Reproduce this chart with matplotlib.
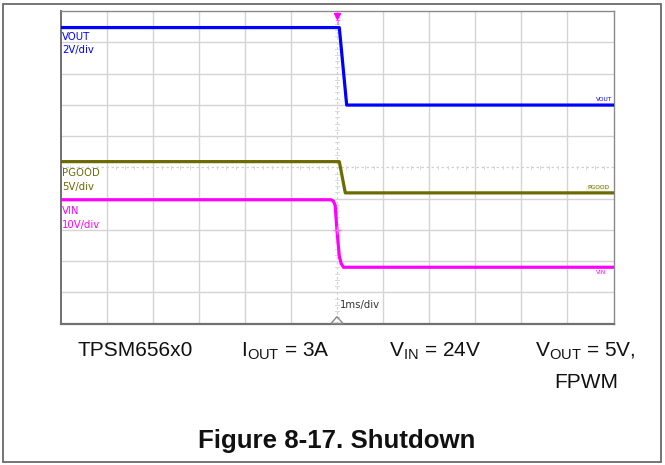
import matplotlib as mpl
mpl.use('Agg')
import matplotlib.pyplot as plt
from matplotlib.patches import Rectangle, Polygon

plt.rc('font', family='Liberation Sans')
plt.rc('mathtext', fontset='custom', rm='Liberation Sans')

# scope traces, time in ms (1 ms/div), amplitude in screen divisions
vout_t = [-6.0, 0.05, 0.21, 6.0]
vout_y = [4.47, 4.47, 1.99, 1.99]

pgood_t = [-6.0, 0.05, 0.18, 6.0]
pgood_y = [0.18, 0.18, -0.82, -0.82]

vin_t = [-6.0, -0.13, -0.08, -0.04, 0.0, 0.05, 0.09, 0.14, 6.0]
vin_y = [-1.04, -1.04, -1.08, -1.22, -2.03, -2.85, -3.08, -3.2, -3.2]

ch_names = ["VOUT", "PGOOD", "VIN"]
ch_scales = ["2V/div", "5V/div", "10V/div"]
ch_colors = ["#0000ff", "#6b6b00", "#ff00ff"]

conditions = ["TPSM656x0", r"I$_{\mathregular{OUT}}$ = 3A",
              r"V$_{\mathregular{IN}}$ = 24V", "V$_{\mathregular{OUT}}$ = 5V,"]
mode = "FPWM"
caption = "Figure 8-17. Shutdown"

W, H = 665, 465
fig = plt.figure(figsize=(W / 100, H / 100), dpi=100)


def fx(px):
    return px / W


def fy(py):
    return 1 - py / H


# outer frame of the figure block
fig.patches.append(Rectangle((fx(3), fy(462)), fx(658), 458 / H, transform=fig.transFigure,
                             fill=False, ec='#6a6a6a', lw=1.3))

ax = fig.add_axes([fx(60.5), fy(323.5), fx(553), 312.5 / H])
ax.set_xlim(-6, 6)
ax.set_ylim(-5, 5)
ax.set_xticks([])
ax.set_yticks([])
for s in ax.spines.values():
    s.set_color('#8a8a8a')
    s.set_linewidth(1.0)
ax.spines['bottom'].set_color('#707070')
ax.spines['bottom'].set_linewidth(1.6)
ax.spines['left'].set_color('#707070')
ax.spines['left'].set_linewidth(1.4)

# graticule
for gx in range(-5, 6):
    if gx != 0:
        ax.axvline(gx, color='#d4d4d4', lw=1.0, zorder=0)
for gy in range(-4, 5):
    if gy != 0:
        ax.axhline(gy, color='#d4d4d4', lw=1.0, zorder=0)
ax.axvline(0, color='#d0d0d0', lw=0.9, ls=(0, (2, 2)), zorder=0)
ax.axhline(0, color='#d0d0d0', lw=0.9, ls=(0, (2, 2)), zorder=0)
for k in range(-30, 31):
    if k % 5:
        ax.plot([k / 5, k / 5], [-0.04, 0.04], color='#dadada', lw=0.7, zorder=0)
for k in range(-25, 26):
    if k % 5:
        ax.plot([-0.05, 0.05], [k / 5, k / 5], color='#dadada', lw=0.7, zorder=0)

ax.plot(vout_t, vout_y, color=ch_colors[0], lw=2.3, solid_joinstyle='round', zorder=3)
ax.plot(pgood_t, pgood_y, color=ch_colors[1], lw=2.3, solid_joinstyle='round', zorder=3)
ax.plot(vin_t, vin_y, color=ch_colors[2], lw=2.3, solid_joinstyle='round', zorder=3)

# channel labels on the left
label_y = [(37, 50), (173, 187), (211, 225)]
for name, sc, c, (y1, y2) in zip(ch_names, ch_scales, ch_colors, label_y):
    fig.text(fx(62), fy(y1), name, color=c, fontsize=7.3, va='center', ha='left',
             family='DejaVu Sans')
    fig.text(fx(62), fy(y2), sc, color=c, fontsize=7.3, va='center', ha='left',
             family='DejaVu Sans')

# tiny channel tags at the right end of each trace
ax.text(5.97, vout_y[-1] + 0.1, "VOUT", color=ch_colors[0], fontsize=4.2, ha='right',
        va='bottom', family='DejaVu Sans', zorder=4)
ax.text(5.9, pgood_y[-1] + 0.08, "PGOOD", color=ch_colors[1], fontsize=4.2, ha='right',
        va='bottom', family='DejaVu Sans', zorder=4,
        bbox=dict(boxstyle='square,pad=0.1', fc='#f4f4e4', ec='none'))
ax.text(5.85, vin_y[-1] - 0.1, "VIN", color=ch_colors[2], fontsize=4.2, ha='right',
        va='top', family='DejaVu Sans', zorder=4)

# trigger markers
ax.plot([0], [4.85], marker='v', ms=5, color='#ff00ff', mec='#ff00ff', clip_on=False, zorder=5)
ax.text(0, 4.62, "T", color='#ff00ff', fontsize=5, ha='center', va='center',
        family='DejaVu Sans', zorder=5)
ax.plot([0], [(167 - 230) / 31.25], marker='+', ms=6, mew=1.0, color='#ff66ff', zorder=5)
ax.add_patch(Polygon([[-0.13, -5], [0.13, -5], [0, -4.78]], closed=True, fill=False,
                     ec='#8a8a8a', lw=1.0, zorder=5, clip_on=False))
fig.text(fx(340), fy(305), "1ms/div", color='#333333', fontsize=7.3, va='center', ha='left',
         family='DejaVu Sans')

# test conditions and caption
for i, txt in enumerate(conditions):
    fig.text(fx(135 + 150 * i), fy(356), txt, fontsize=15, ha='center', va='baseline',
             color='#111111')
fig.text(fx(586), fy(387.5), mode, fontsize=15, ha='center', va='baseline', color='#111111')
fig.text(fx(336.5), fy(448), caption, fontsize=18.6, fontweight='bold', ha='center',
         va='baseline', color='#111111')

fig.savefig('out.png', dpi=100)
